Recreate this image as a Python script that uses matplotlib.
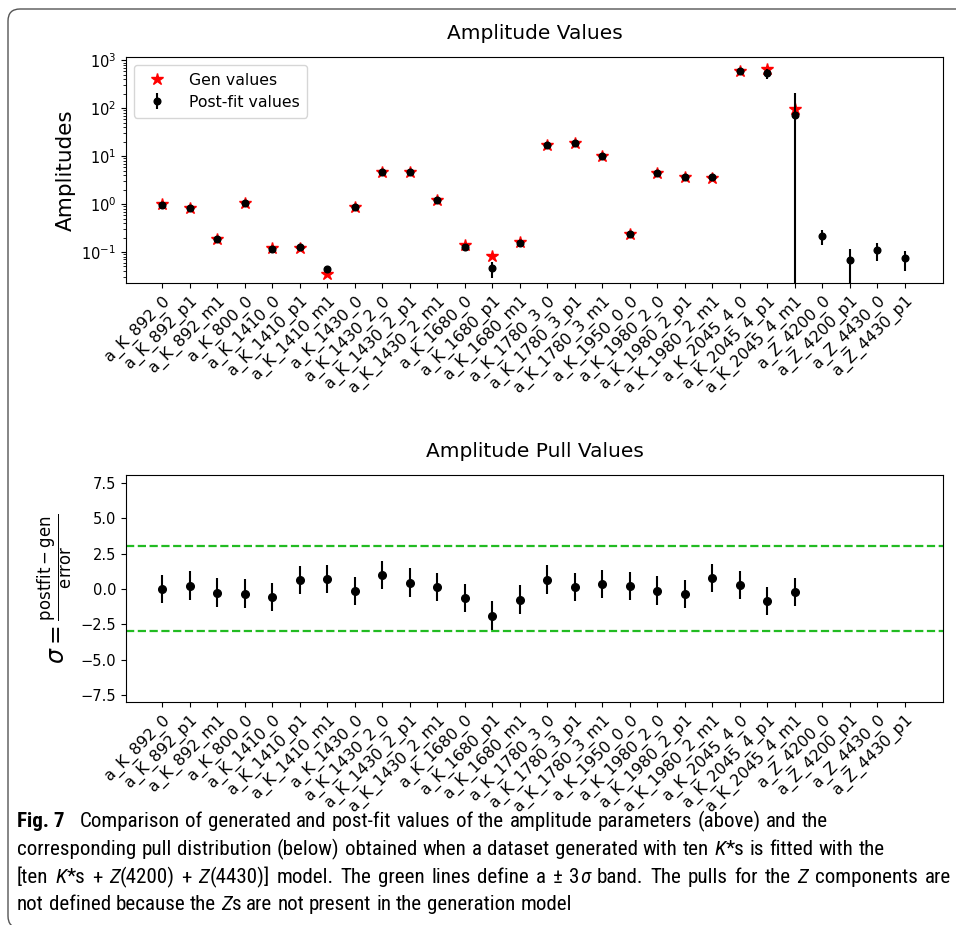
import matplotlib
matplotlib.use("Agg")
import matplotlib.pyplot as plt
import numpy as np
from matplotlib import font_manager
from matplotlib.patches import FancyBboxPatch
from matplotlib.transforms import IdentityTransform

plt.rcParams['font.family'] = ['DejaVu Sans']
plt.rcParams['mathtext.fontset'] = 'dejavusans'

# ---------------- data ----------------
labels = ['a_K_892_0', 'a_K_892_p1', 'a_K_892_m1', 'a_K_800_0', 'a_K_1410_0',
          'a_K_1410_p1', 'a_K_1410_m1', 'a_K_1430_0', 'a_K_1430_2_0', 'a_K_1430_2_p1',
          'a_K_1430_2_m1', 'a_K_1680_0', 'a_K_1680_p1', 'a_K_1680_m1', 'a_K_1780_3_0',
          'a_K_1780_3_p1', 'a_K_1780_3_m1', 'a_K_1950_0_0', 'a_K_1980_2_0', 'a_K_1980_2_p1',
          'a_K_1980_2_m1', 'a_K_2045_4_0', 'a_K_2045_4_p1', 'a_K_2045_4_m1',
          'a_Z_4200_0', 'a_Z_4200_p1', 'a_Z_4430_0', 'a_Z_4430_p1']

gen_values = [1.0, 0.83, 0.19, 1.08, 0.12, 0.12, 0.035, 0.88, 4.57, 4.57,
              1.23, 0.14, 0.083, 0.164, 16.9, 18.7, 10.3, 0.237, 4.43, 3.71,
              3.48, 590, 671, 98.5]

fit_values = [0.98, 0.83, 0.19, 1.08, 0.114, 0.129, 0.0435, 0.88, 4.57, 4.57,
              1.23, 0.129, 0.0457, 0.151, 16.9, 18.7, 10.3, 0.237, 4.43, 3.71,
              3.65, 590, 536, 72.6, 0.215, 0.068, 0.110, 0.0738]

fit_errors = [0.05, 0.05, 0.01, 0.06, 0.008, 0.008, 0.006, 0.05, 0.25, 0.25,
              0.07, 0.008, 0.017, 0.01, 1.0, 1.1, 0.6, 0.015, 0.25, 0.2,
              0.2, 40, 130, 140, 0.072, 0.048, 0.046, 0.033]

pull_values = [0.0, 0.23, -0.26, -0.33, -0.59, 0.61, 0.68, -0.16, 0.99, 0.45,
               0.14, -0.63, -1.88, -0.75, 0.66, 0.12, 0.33, 0.19, -0.12, -0.35,
               0.75, 0.28, -0.85, -0.21]
pull_errors = [1.0] * len(pull_values)
band = 3.0

# caption text: lines -> words -> pieces (text, style)
N, I, B = 'normal', 'italic', 'bold'
def words(s):
    return [[(w, N)] for w in s.split(' ')]
caption = [
    [[("Fig. 7", B), ("  ", N)]] + words("Comparison of generated and post-fit values of the amplitude parameters (above) and the"),
    words("corresponding pull distribution (below) obtained when a dataset generated with ten")
    + [[("K", I), ("*s", N)]] + words("is fitted with the"),
    [[("[ten", N)], [("K", I), ("*s", N)], [("+", N)], [("Z", I), ("(4200)", N)], [("+", N)],
     [("Z", I), ("(4430)]", N)]] + words("model. The green lines define a")
    + [[("\u00b1", N)], [("3", N), ("\u03c3", I)]] + words("band. The pulls for the")
    + [[("Z", I)]] + words("components are"),
    words("not defined because the") + [[("Z", I), ("s", N)]] + words("are not present in the generation model"),
]
caption_right = [828, 885, 951, None]

# ---------------- figure ----------------
W, H = 956, 925
fig = plt.figure(figsize=(W / 100, H / 100), dpi=100)

def ax_rect(l, t, r, b):
    return [l / W, 1 - b / H, (r - l) / W, (b - t) / H]

x = np.arange(len(labels))
xg = np.arange(len(gen_values))
xp = np.arange(len(pull_values))

# top axes
ax1 = fig.add_axes(ax_rect(126, 57, 943, 283))
ax1.plot(xg, gen_values, linestyle='none', marker='*', color='red', markersize=9,
         label='Gen values', zorder=2)
ax1.errorbar(x, fit_values, yerr=fit_errors, fmt='o', color='black', markersize=4.8,
             elinewidth=1.5, label='Post-fit values', zorder=3)
ax1.set_yscale('log')
ax1.set_ylim(10 ** -1.646, 10 ** 3.069)
ax1.set_xlim(-1.31, 28.4)
ax1.set_xticks(x)
ax1.set_xticklabels(labels, rotation=45, ha='right', rotation_mode='anchor', fontsize=11.5)
ax1.tick_params(axis='y', labelsize=10.5)
ax1.set_ylabel('Amplitudes', fontsize=15.5)
ax1.set_title('Amplitude Values', fontsize=14.5, pad=13)
ax1.legend(loc='upper left', fontsize=11.3, handletextpad=1.0, borderpad=0.5,
           labelspacing=0.45)

# bottom axes
ax2 = fig.add_axes(ax_rect(126, 475, 943, 702))
ax2.errorbar(xp, pull_values, yerr=pull_errors, fmt='o', color='black', markersize=5.5,
             elinewidth=1.5, zorder=3)
ax2.axhline(band, color='#22bb22', linestyle='--', linewidth=1.6, zorder=2)
ax2.axhline(-band, color='#22bb22', linestyle='--', linewidth=1.6, zorder=2)
ax2.set_ylim(-7.98, 8.04)
ax2.set_yticks([-7.5, -5.0, -2.5, 0.0, 2.5, 5.0, 7.5])
ax2.set_xlim(-1.31, 28.4)
ax2.set_xticks(x)
ax2.set_xticklabels(labels, rotation=45, ha='right', rotation_mode='anchor', fontsize=11.5)
ax2.tick_params(axis='y', labelsize=10.5)
ax2.set_ylabel(r'$\sigma = \frac{\mathrm{postfit}-\mathrm{gen}}{\mathrm{error}}$', fontsize=17)
ax2.set_title('Amplitude Pull Values', fontsize=14.5, pad=13)

for ax in (ax1, ax2):
    for tl in ax.get_xticklabels():
        tl.set_va('top')

# border
border = FancyBboxPatch((8, -3), 1000, 925 - 9 + 3,
                        boxstyle="round,pad=0,rounding_size=12",
                        transform=IdentityTransform(), fill=False,
                        edgecolor='#555555', linewidth=1.0, clip_on=False)
fig.patches.append(border)

# caption font
avail = {f.name for f in font_manager.fontManager.ttflist}
cap_family = 'DejaVu Sans'
for cand in ['Roboto Condensed', 'Liberation Sans Narrow', 'DejaVu Sans Condensed',
             'Open Sans Condensed', 'Liberation Sans']:
    if cand in avail:
        cap_family = cand
        break

renderer = fig.canvas.get_renderer()

def piece_kw(fs, style):
    kw = dict(fontsize=fs, family=cap_family)
    if style == B:
        kw['weight'] = 'bold'
    elif style == I:
        kw['style'] = 'italic'
    return kw

def piece_width(s, fs, style):
    kw = piece_kw(fs, style)
    t1 = fig.text(0, 0, '|' + s + '|', **kw)
    t2 = fig.text(0, 0, '||', **kw)
    w = t1.get_window_extent(renderer).width - t2.get_window_extent(renderer).width
    t1.remove(); t2.remove()
    return w

def word_width(word, fs):
    return sum(piece_width(s, fs, st) for s, st in word)

def natural_width(line, fs):
    sp = piece_width(' ', fs, N)
    return sum(word_width(w, fs) for w in line) + sp * (len(line) - 1)

cap_fs = 12.5 * (caption_right[1] - 17) / natural_width(caption[1], 12.5)
space_w = piece_width(' ', cap_fs, N)

base_y = [827, 855, 883, 910]
x0 = 17
for line, yb, xr in zip(caption, base_y, caption_right):
    widths = [word_width(w, cap_fs) for w in line]
    gap = space_w
    if xr is not None:
        g = (xr - x0 - sum(widths)) / (len(line) - 1)
        gap = min(max(g, 0.6 * space_w), 1.8 * space_w)
    xc = x0
    for word, ww in zip(line, widths):
        xp_ = xc
        for s, st in word:
            fig.text(xp_ / W, 1 - yb / H, s, va='baseline', ha='left', **piece_kw(cap_fs, st))
            xp_ += piece_width(s, cap_fs, st)
        xc += ww + gap

fig.savefig('out.png', dpi=100)
